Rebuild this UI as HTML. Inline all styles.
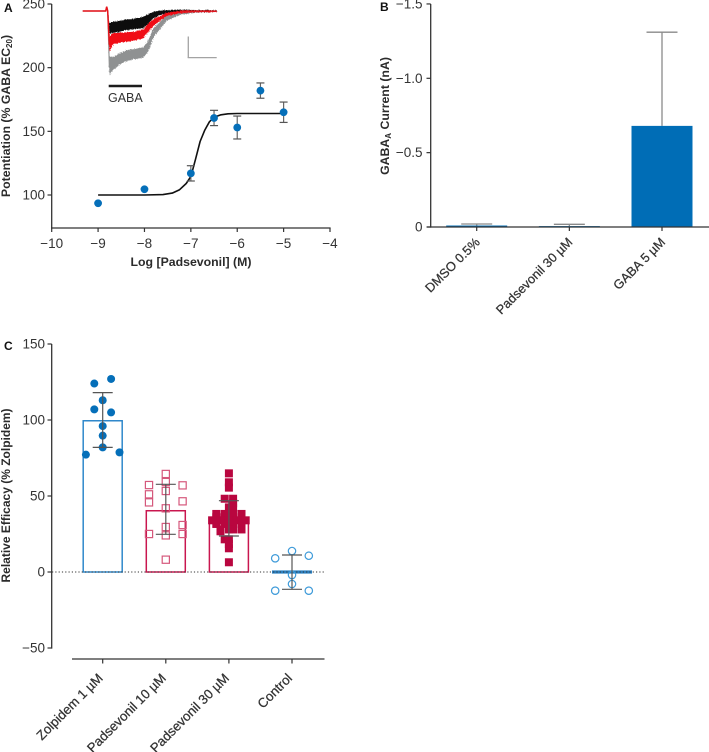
<!DOCTYPE html>
<html><head><meta charset="utf-8"><title>Padsevonil figure</title>
<style>
html,body{margin:0;padding:0;background:#fff;width:709px;height:752px;overflow:hidden}
svg{display:block}
text{font-family:"Liberation Sans",sans-serif;fill:#333}
.t{font-size:13.5px}
.b{font-size:12.3px;font-weight:bold;fill:#2b2b2b}
.p{font-size:12px;font-weight:bold;fill:#111}
.r{font-size:13.2px;fill:#333;stroke:#333;stroke-width:.25px}
.rb{font-size:12.8px;fill:#333;stroke:#333;stroke-width:.25px}
</style></head>
<body>
<svg id="fig" xmlns="http://www.w3.org/2000/svg" width="709" height="752" viewBox="0 0 709 752">
<defs><filter id="rough" x="-5%" y="-5%" width="110%" height="110%"><feTurbulence type="fractalNoise" baseFrequency="0.9" numOctaves="1" seed="3"/><feDisplacementMap in="SourceGraphic" scale="2.5"/></filter></defs>
<text class="p" x="4" y="12">A</text>
<text class="p" x="380" y="11">B</text>
<text class="p" x="4" y="350">C</text>
<text class="b" transform="translate(10,116) rotate(-90)" text-anchor="middle">Potentiation (% GABA EC<tspan font-size="8" dy="2">20</tspan><tspan dy="-2">)</tspan></text>
<text class="b" x="191" y="266" text-anchor="middle">Log [Padsevonil] (M)</text>
<text class="b" transform="translate(389,116) rotate(-90)" text-anchor="middle">GABA<tspan font-size="8" dy="2">A</tspan><tspan dy="-2"> Current (nA)</tspan></text>
<text class="b" style="font-size:12px" transform="translate(10,495.5) rotate(-90)" text-anchor="middle">Relative Efficacy (% Zolpidem)</text>
<text x="108" y="102" style="font-size:12.5px" fill="#222">GABA</text>
</svg>
<script>
// Panel A data
const aTicksX = [-10,-9,-8,-7,-6,-5,-4];
const aTicksY = [100,150,200,250];
const aLogConc = [-9,-8,-7,-6.5,-6,-5.5,-5];
const aResponse = [93.5,104.5,117,160.5,153,182,165];
const aError = [0,0,6,6,9,6,8];
const curveLogConc = [-9,-8.5,-8,-7.6,-7.4,-7.25,-7.1,-7,-6.9,-6.8,-6.7,-6.6,-6.5,-6.35,-6.2,-6,-5.5,-5];
const curveResponse = [100,100,100,100.3,101.5,104,109,114.5,128,142,151,157.5,161,163,163.8,164,164,164];
// Inset traces
const traceTime = [8,20,40,60,80,110,125,140,160,180,220,270,330];
const grayUpper = [-137,-137,-127,-117,-115,-109,-87,-52,-32,-12,-3,0,1];
const grayLower = [-192,-176,-160,-150,-145,-140,-120,-80,-54,-29,-11,-5,-3];
const blackUpper = [-37,-32,-29,-25,-23,-17,-9,-2,1,3,4,3,2];
const blackLower = [-67,-65,-62,-57,-55,-52,-37,-22,-12,-7,-3,-2,-2];
const redUpper = [-77,-67,-65,-64,-62,-55,-37,-25,-15,-5,1,1,0];
const redLower = [-122,-99,-95,-92,-89,-82,-62,-45,-29,-15,-7,-4,-3];
const baselineTime = [-72,-3,0,3,8];
const baselineCurrent = [0,0,13,0,-100];
// Panel B data
const bCategories = ['DMSO 0.5%','Padsevonil 30 µM','GABA 5 µM'];
const bValues = [0.01,0.006,0.68];
const bErrorTop = [0.02,0.018,1.31];
const bTicks = [0,0.5,1.0,1.5];
const bTickLabels = ['0','−0.5','−1.0','−1.5'];
// Panel C data
const cCategories = ['Zolpidem 1 µM','Padsevonil 10 µM','Padsevonil 30 µM','Control'];
const cMeans = [99.5,40.3,33,0];
const cErrorHigh = [118,57.7,46.9,11.2];
const cErrorLow = [82,24.8,23.7,-11.4];
const cTicks = [-50,0,50,100,150];
const zolpidemValues = [127,124,113,107,105,96,89.7,82,78.7,77.2];
const zolpidemLanes = [2,-2,0,-2,2,0,0,0,4,-4];
const pad10Values = [64.5,59.2,57.2,57,53.3,51.1,46.5,45.8,41.9,30.9,29.6,25,25,24.1,8.1];
const pad10Lanes = [0,0,-4,4,0,-4,4,-4,0,4,0,-4,4,0,0];
const pad30Values = [64.9,59,55.5,48.2,48.2,45.2,42.5,42.5,38.2,38.2,38.2,38.2,36,36,36,36,34,34,34,34,34,31.6,31.6,31.6,31.6,28,28,28,28,26.8,21.5,21.5,18.4,15.6,6.4];
const pad30Lanes = [0,0,0,-1,1,1,1,0,-3,-1,1,3,-3,-1,1,3,-4,-2,0,2,4,-3,-1,1,3,-2,0,1,3,-2,-1,0,0,0,0];
const controlValues = [13.8,9,10.7,-2,-7.9,-12.3,-12.3];
const controlLanes = [0,-4,4,0,0,-4,4];

const svg = document.getElementById('fig');
const NS = 'http://www.w3.org/2000/svg';
function mk(tag, attrs, text){
  const el = document.createElementNS(NS, tag);
  for (const k in attrs) el.setAttribute(k, attrs[k]);
  if (text !== undefined) el.textContent = text;
  svg.appendChild(el);
  
  return el;
}
function seg(x1,y1,x2,y2,stroke,w,name){
  const el = mk('line',{x1,y1,x2,y2,stroke,'stroke-width':w});
  
  return el;
}
function label(x,y,anchor,str,name){
  const el = mk('text',{x,y,'text-anchor':anchor,class:'t'},str);
  
  return el;
}
function rotLabel(x,y,str,name,cls){
  const el = mk('text',{transform:`translate(${x},${y}) rotate(-45)`,'text-anchor':'end',class:cls},str);
  
  return el;
}
const fmt = v => v < 0 ? '−' + Math.abs(v) : String(v);
const AXIS = '#333';

// ===== Panel A =====
const ax = v => 51.7 + (v + 10) * (330 - 51.7) / 6;
const ay = v => 195 - (v - 100) * 1.2733;
// inset
const ix = t => 106.7 + t / 3;
const iy = c => 11 - c / 3;
function band(upper, lower, fill, name){
  let pts = [[ix(3),iy(0)]];
  traceTime.forEach((t,i)=>pts.push([ix(t),iy(upper[i])]));
  for (let i = traceTime.length-1; i >= 0; i--) pts.push([ix(traceTime[i]),iy(lower[i])]);
  const el = mk('polygon',{points:pts.map(p=>p.map(n=>n.toFixed(1)).join(',')).join(' '),fill,filter:'url(#rough)'});
  
}
const drop = mk('polyline',{points:baselineTime.map((t,i)=>ix(t)+','+iy(i==4?-170:baselineCurrent[i])).join(' '),fill:'none',stroke:'#999','stroke-width':1.2});

band(grayUpper,grayLower,'#8f9192','trace-padsevonil-high');
band(blackUpper,blackLower,'#0a0a0a','trace-control-black');
band(redUpper,redLower,'#f00a14','trace-padsevonil-red');
const base = mk('polyline',{points:baselineTime.map((t,i)=>ix(t)+','+iy(baselineCurrent[i])).join(' '),fill:'none',stroke:'#e8131b','stroke-width':1.5});

const tail = mk('line',{x1:ix(220),y1:iy(0),x2:ix(330),y2:iy(0),stroke:'#d81820','stroke-width':1.2});

seg(188.3,36.5,188.3,58,'#a3a3a3',1.3,'scale-bar-vertical');
seg(187.7,57.6,216.7,57.6,'#a3a3a3',1.3,'scale-bar-horizontal');
seg(108.7,86,142,86,'#1c1c1c',2.6,'gaba-application-bar');
// axes
seg(51.7,4,51.7,228.6,AXIS,1.3,'panel-a-y-axis');
seg(51.1,228,330.6,228,AXIS,1.3,'panel-a-x-axis');
aTicksX.forEach(v=>{
  seg(ax(v),228,ax(v),232,AXIS,1.2,'panel-a-x-tick');
  label(ax(v),248,'middle',fmt(v),'panel-a-x-tick-label');
});
aTicksY.forEach(v=>{
  seg(47.5,ay(v),51.7,ay(v),AXIS,1.2,'panel-a-y-tick');
  label(45,ay(v)+4.5,'end',fmt(v),'panel-a-y-tick-label');
});
const curve = mk('polyline',{points:curveLogConc.map((x,i)=>ax(x).toFixed(1)+','+ay(curveResponse[i]).toFixed(1)).join(' '),fill:'none',stroke:'#111','stroke-width':1.6,'stroke-linejoin':'round'});

aLogConc.forEach((x,i)=>{
  if (aError[i] > 0){
    seg(ax(x),ay(aResponse[i]+aError[i]),ax(x),ay(aResponse[i]-aError[i]),'#666',1.2,'panel-a-error-bar');
    seg(ax(x)-4,ay(aResponse[i]+aError[i]),ax(x)+4,ay(aResponse[i]+aError[i]),'#555',1.2,'panel-a-error-cap');
    seg(ax(x)-4,ay(aResponse[i]-aError[i]),ax(x)+4,ay(aResponse[i]-aError[i]),'#555',1.2,'panel-a-error-cap');
  }
  const c = mk('circle',{cx:ax(x),cy:ay(aResponse[i]),r:3.9,fill:'#056fb9'});
  
});

// ===== Panel B =====
const by = v => 227 - v * 148.7;
const bx = i => 476.7 + i * 92.65;
bValues.forEach((v,i)=>{
  seg(bx(i),by(bErrorTop[i]),bx(i),by(v),'#8a8a8a',1.3,'panel-b-error-bar');
  seg(bx(i)-15.5,by(bErrorTop[i]),bx(i)+15.5,by(bErrorTop[i]),'#8a8a8a',1.3,'panel-b-error-cap');
  const r = mk('rect',{x:bx(i)-30.5,y:by(v),width:61,height:Math.max(227-by(v),0),fill:'#006db6'});
  
  seg(bx(i),227,bx(i),231,AXIS,1.2,'panel-b-x-tick');
  rotLabel(bx(i)+4,243,bCategories[i],'panel-b-x-tick-label','rb');
});
seg(430.7,4,430.7,227.6,AXIS,1.3,'panel-b-y-axis');
seg(427,227,709,227,AXIS,1.3,'panel-b-x-axis');
bTicks.forEach((v,i)=>{
  seg(426.5,by(v),430.7,by(v),AXIS,1.2,'panel-b-y-tick');
  label(422.5,by(v)+4.5,'end',bTickLabels[i],'panel-b-y-tick-label');
});

// ===== Panel C =====
const cy = v => 572 - v * 1.52;
const cx = i => 102.7 + i * 63.1;
const lane = 4.2;
const cColors = ['#2f88cb','#c9164f','#c9164f','#2f88cb'];
cMeans.forEach((m,i)=>{
  if (i === 3) return;
  const r = mk('rect',{x:cx(i)-19.5,y:cy(m),width:39,height:572-cy(m),fill:'#fff',stroke:cColors[i],'stroke-width':1.5});
  
});
const ctrlBar = mk('rect',{x:cx(3)-20,y:570.4,width:40,height:3.2,fill:'#2a80c2'});

const zero = mk('line',{x1:52,y1:572,x2:325,y2:572,stroke:'#333','stroke-width':1.1,'stroke-dasharray':'1.2 2.1'});

zolpidemValues.forEach((v,i)=>{
  const c = mk('circle',{cx:cx(0)+zolpidemLanes[i]*lane,cy:cy(v),r:4,fill:'#056fb9'});
  
});
pad10Values.forEach((v,i)=>{
  const s = mk('rect',{x:cx(1)+pad10Lanes[i]*lane-3.6,y:cy(v)-3.6,width:7.2,height:7.2,fill:'none',stroke:'#d5587c','stroke-width':1.2});
  
});
pad30Values.forEach((v,i)=>{
  const s = mk('rect',{x:cx(2)+pad30Lanes[i]*lane-4,y:cy(v)-4,width:8,height:8,fill:'#b9063f'});
  
});
controlValues.forEach((v,i)=>{
  const c = mk('circle',{cx:cx(3)+controlLanes[i]*lane,cy:cy(v),r:3.7,fill:'none',stroke:'#3d9ad9','stroke-width':1.2});
  
});
cMeans.forEach((m,i)=>{
  seg(cx(i),cy(cErrorHigh[i]),cx(i),cy(cErrorLow[i]),'#555',1.2,'panel-c-error-bar');
  seg(cx(i)-10,cy(cErrorHigh[i]),cx(i)+10,cy(cErrorHigh[i]),'#555',1.2,'panel-c-error-cap');
  seg(cx(i)-10,cy(cErrorLow[i]),cx(i)+10,cy(cErrorLow[i]),'#555',1.2,'panel-c-error-cap');
});
seg(51.7,344,51.7,648.6,AXIS,1.3,'panel-c-y-axis');
cTicks.forEach(v=>{
  seg(47.5,cy(v),51.7,cy(v),AXIS,1.2,'panel-c-y-tick');
  label(45,cy(v)+4.5,'end',fmt(v),'panel-c-y-tick-label');
});
seg(72,659,324.5,659,AXIS,1.3,'panel-c-x-axis');
cCategories.forEach((n,i)=>{
  seg(cx(i),659,cx(i),663.5,AXIS,1.2,'panel-c-x-tick');
  rotLabel(cx(i)+1,679,n,'panel-c-x-tick-label','r');
});
</script>
</body></html>
